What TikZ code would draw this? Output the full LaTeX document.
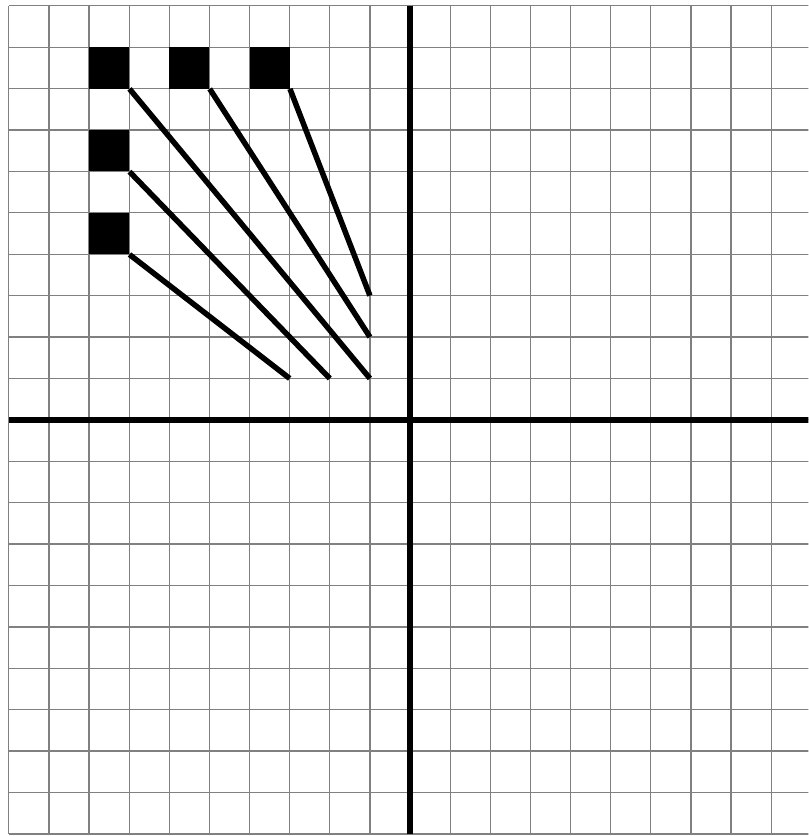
\documentclass[tikz,border=0pt]{standalone}
\usepackage{tikz}
\usetikzlibrary{shapes.geometric}
\tikzstyle{gridline} = [draw=black!50, line width=0.9pt]
\tikzstyle{axisline} = [draw=black, line width=4pt]
\tikzstyle{marker} = [rectangle, fill=black, inner sep=0pt,
  minimum width=1cm, minimum height=1.032cm]
\tikzstyle{ray} = [draw=black, line width=3.9pt]

\begin{document}
\begin{tikzpicture}[x=1cm, y=1.032cm]

\useasboundingbox (-10.22,-10.05) rectangle (9.93,10.14);
\clip (-10.22,-10.05) rectangle (9.93,10.14);

%% grid
\foreach \k in {-10,...,10} {
  \draw [gridline] (\k,-10) -- (\k,10);
  \draw [gridline] (-10,\k) -- (10,\k);
}

%% axes
\coordinate (xleft) at (-10,0);
\coordinate (xright) at (10,0);
\coordinate (ytop) at (0,10);
\coordinate (ybottom) at (0,-10);
\draw [axisline] (xleft) -- (xright);
\draw [axisline] (ytop) -- (ybottom);

%% nodes
\node (sqA) [marker] at (-7.5,8.5) {};
\node (sqB) [marker] at (-5.5,8.5) {};
\node (sqC) [marker] at (-3.5,8.5) {};
\node (sqD) [marker] at (-7.5,6.5) {};
\node (sqE) [marker] at (-7.5,4.5) {};

\coordinate (endA) at (-1,1);
\coordinate (endB) at (-1,2);
\coordinate (endC) at (-1,3);
\coordinate (endD) at (-2,1);
\coordinate (endE) at (-3,1);

%% paths
\draw [ray] (sqA.south east) -- (endA);
\draw [ray] (sqB.south east) -- (endB);
\draw [ray] (sqC.south east) -- (endC);
\draw [ray] (sqD.south east) -- (endD);
\draw [ray] (sqE.south east) -- (endE);

\end{tikzpicture}
\end{document}
